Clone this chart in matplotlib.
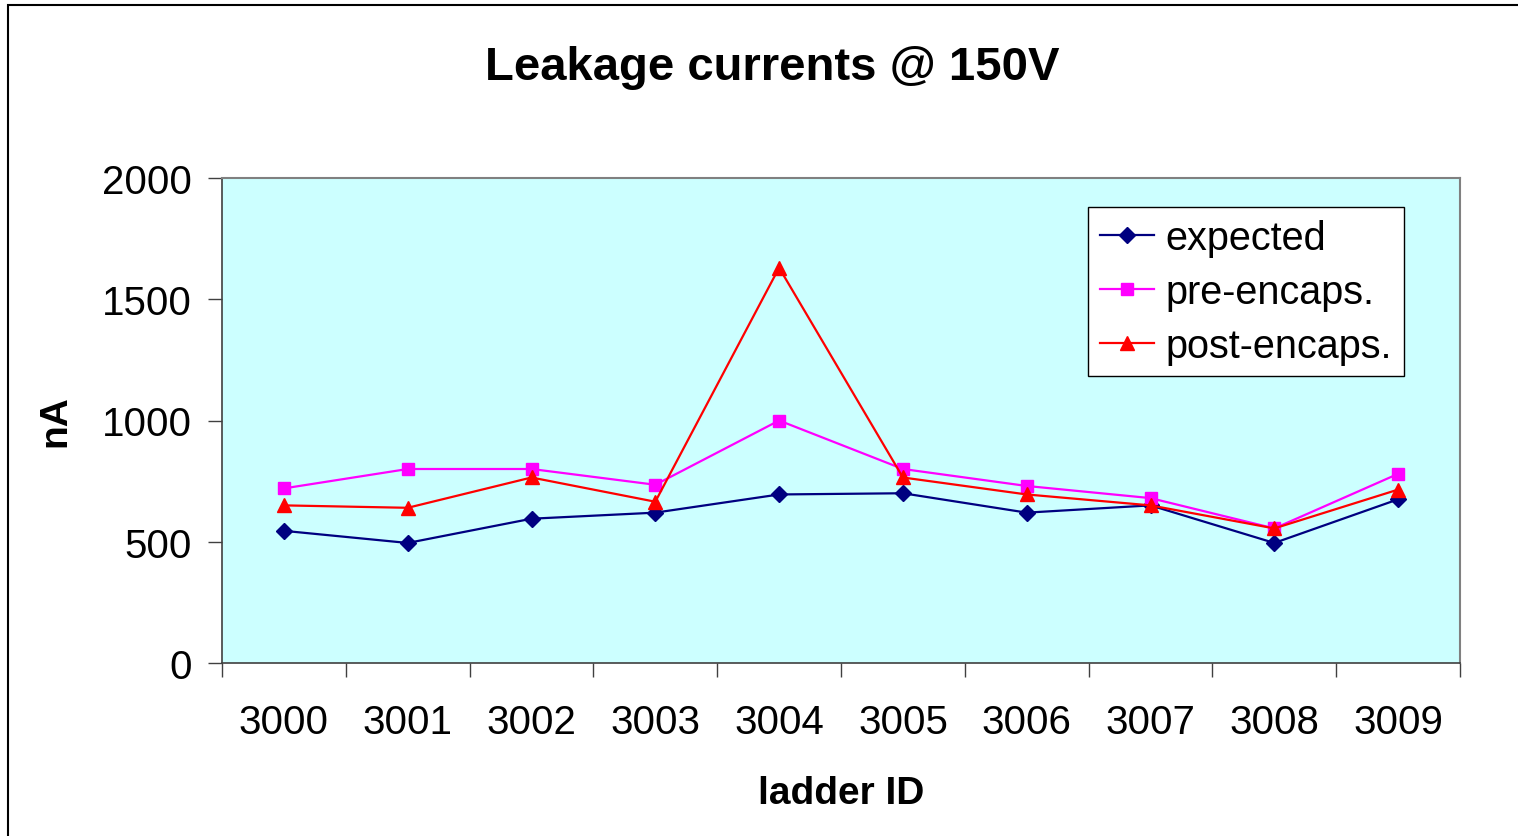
import matplotlib
matplotlib.use('Agg')
import matplotlib.pyplot as plt
from matplotlib.patches import Rectangle

plt.rcParams['font.family'] = ['Liberation Sans', 'DejaVu Sans']

ladders = ['3000', '3001', '3002', '3003', '3004', '3005', '3006', '3007', '3008', '3009']
expected = [545, 495, 595, 620, 695, 700, 620, 650, 495, 675]
pre_encaps = [720, 800, 800, 735, 1000, 800, 730, 680, 555, 780]
post_encaps = [650, 640, 765, 665, 1630, 765, 695, 650, 555, 715]

fig = plt.figure(figsize=(15.18, 8.37), dpi=100)
ax = fig.add_axes([222/1518, 1 - 664/837, (1460-222)/1518, (664-179)/837])
ax.set_facecolor('#CCFFFF')

x = list(range(len(ladders)))
ax.plot(x, expected, color='#000080', lw=1.6, marker='D', ms=8, label='expected')
ax.plot(x, pre_encaps, color='#FF00FF', lw=1.6, marker='s', ms=8.5, label='pre-encaps.')
ax.plot(x, post_encaps, color='#FF0000', lw=1.6, marker='^', ms=10, label='post-encaps.')

ax.set_xlim(-0.5, len(ladders) - 0.5)
ax.set_ylim(0, 2000)
ax.set_yticks([0, 500, 1000, 1500, 2000])
ax.set_xticks([i - 0.5 for i in range(len(ladders) + 1)])
ax.set_xticklabels([])
ax.set_xticks(x, minor=True)
ax.set_xticklabels(ladders, minor=True)
ax.tick_params(axis='x', which='major', direction='out', length=10, width=1, color='#404040')
ax.tick_params(axis='x', which='minor', length=0, pad=29, labelsize=29)
ax.tick_params(axis='y', direction='out', length=10, width=1, color='#404040', labelsize=29, pad=12)

for s in ['top', 'right']:
    ax.spines[s].set_color('#808080')
    ax.spines[s].set_linewidth(1.5)
for s in ['left', 'bottom']:
    ax.spines[s].set_color('#404040')
    ax.spines[s].set_linewidth(1.2)

ax.set_ylabel('nA', fontsize=28, fontweight='bold', labelpad=20)
ax.set_xlabel('ladder ID', fontsize=28, fontweight='bold', labelpad=24)
fig.text(772/1518, 1 - 68/837, 'Leakage currents @ 150V', fontsize=34, fontweight='bold',
         ha='center', va='center')

leg = ax.legend(loc='upper right', bbox_to_anchor=(1404/1518, 1 - 208/837),
                bbox_transform=fig.transFigure, fontsize=28.5, fancybox=False,
                framealpha=1, edgecolor='black', handlelength=1.35, handletextpad=0.3,
                borderpad=0.3, labelspacing=0.4, borderaxespad=0)
leg.get_frame().set_linewidth(1)

fig.patches.append(Rectangle((8/1518, -0.05), 1.1, 1 - 6/837 + 0.05, transform=fig.transFigure,
                             fill=False, edgecolor='black', lw=1.5))

fig.savefig('out.png', dpi=100)
